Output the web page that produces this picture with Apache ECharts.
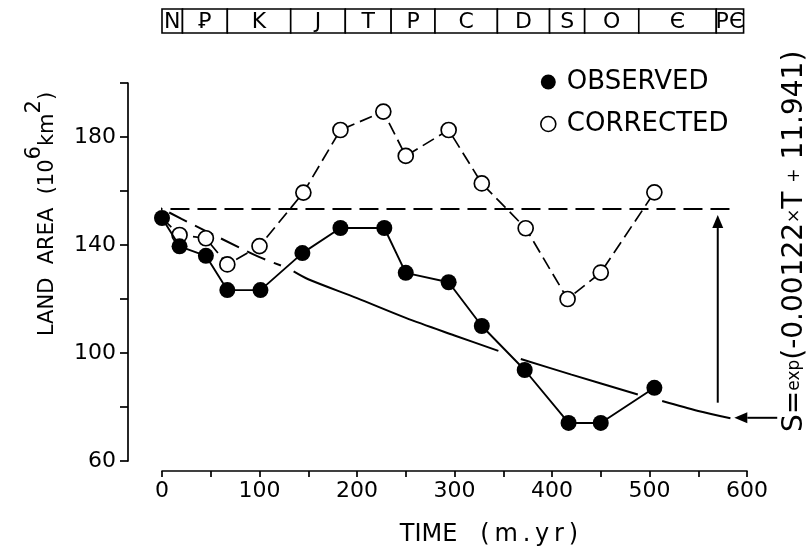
<!DOCTYPE html>
<html>
<head>
<meta charset="utf-8">
<script src="https://cdn.jsdelivr.net/npm/echarts@6/dist/echarts.min.js"></script>
<style>
  html, body { margin: 0; padding: 0; background: #fff; }
  #chart { width: 809px; height: 552px; }
</style>
</head>
<body>
<div id="chart"></div>
<script>
// Observed land area through time (10^6 km^2 vs million years)
const obsTime = [0, 18, 45, 67, 101, 144, 183, 228, 250, 294, 328, 372, 417, 450, 505];
const obsArea = [150, 139.5, 136, 123.3, 123.3, 137, 146.3, 146.3, 129.7, 126.2, 110, 93.7, 74.1, 74.1, 87.1];

// Land area corrected for loss by erosion
const corTime = [0, 18, 45, 67, 100, 145, 183, 227, 250, 294, 328, 373, 416, 450, 505];
const corArea = [150, 143.7, 142.5, 132.8, 139.6, 159.4, 182.6, 189.4, 173, 182.6, 162.8, 146.2, 120, 129.8, 159.5];

// Present-day reference level
const meanTime = [-19, 585];
const meanArea = [153.3, 153.3];

// Exponential fit, S = exp(-0.00122 T + 11.941): dashed lead-in, then solid pieces
const fitDashTime = [-19, 20, 60, 100, 122];
const fitDashArea = [157, 149.7, 142.5, 135.5, 132.4];
const fitSolidTime = [135, 150, 200, 250, 300, 345, null, 368, 420, 488, null, 513, 550, 583];
const fitSolidArea = [130.2, 127.3, 120.3, 113, 106.5, 100.8, null, 97.8, 92, 84.6, null, 82.2, 78.5, 75.8];

// Annotation arrows: tail time, tail area, head time, head area
const liftArrow = [570, 81.6, 570, 151.1];
const formulaArrow = [631, 76, 587, 76];

// Geologic periods along the time axis
const periodEdges = [0, 21, 67, 132, 188, 235, 280, 344, 397.5, 433.5, 489, 568.5, 596.5];
const periodNames = ['N', '\uA750', 'K', 'J', 'T', 'P', 'C', 'D', 'S', 'O', '\u0404', 'P\u0404'];

// Axis tick labels
const xTickLabels = [0, 100, 200, 300, 400, 500, 600];
const yTickLabels = [60, 100, 140, 180];

const FONT = 'DejaVu Sans';
const INK = '#000';
const THIN = '\u2009';

const pairs = (xs, ys) => xs.map((x, i) => (x === null ? [null, null] : [x, ys[i]]));

const periodData = periodNames.map((n, i) => [periodEdges[i], periodEdges[i + 1]]);

const chart = echarts.init(document.getElementById('chart'), null, { renderer: 'canvas' });

const noEmph = { disabled: true };

// straight arrow with a filled head, placed through the value axes
function renderArrow(params, api) {
  const a = api.coord([api.value(0), api.value(1)]);
  const b = api.coord([api.value(2), api.value(3)]);
  const dx = b[0] - a[0], dy = b[1] - a[1];
  const len = Math.hypot(dx, dy);
  const ux = dx / len, uy = dy / len;
  const headLen = 13, headHalf = 5.5;
  const base = [b[0] - ux * headLen, b[1] - uy * headLen];
  const nx = -uy, ny = ux;
  return {
    type: 'group',
    children: [
      {
        type: 'line',
        shape: { x1: a[0], y1: a[1], x2: base[0], y2: base[1] },
        style: { stroke: INK, lineWidth: 2 }
      },
      {
        type: 'polygon',
        shape: { points: [b, [base[0] + nx * headHalf, base[1] + ny * headHalf], [base[0] - nx * headHalf, base[1] - ny * headHalf]] },
        style: { fill: INK }
      }
    ]
  };
}

chart.setOption({
  animation: false,
  backgroundColor: '#fff',
  textStyle: { fontFamily: FONT, color: INK },
  grid: [
    { left: 162, right: 62, top: 83, bottom: 91 },
    { left: 162, right: 62, top: 9, height: 24 }
  ],
  xAxis: [
    {
      type: 'value', gridIndex: 0, min: 0, max: 600, interval: 50, offset: 10,
      axisLine: { show: true, onZero: false, lineStyle: { color: INK, width: 1.7 } },
      axisTick: { show: true, inside: false, length: 6, lineStyle: { color: INK, width: 1.7 } },
      axisLabel: {
        show: true, color: INK, fontFamily: FONT, fontSize: 22, margin: 9,
        formatter: v => (xTickLabels.includes(v) ? String(v) : '')
      },
      splitLine: { show: false }
    },
    { type: 'value', gridIndex: 1, min: 0, max: 600, show: false }
  ],
  yAxis: [
    {
      type: 'value', gridIndex: 0, min: 60, max: 200, interval: 20, offset: 34,
      axisLine: { show: true, onZero: false, lineStyle: { color: INK, width: 1.7 } },
      axisTick: { show: true, inside: false, length: 8, lineStyle: { color: INK, width: 1.7 } },
      axisLabel: {
        show: true, color: INK, fontFamily: FONT, fontSize: 22, margin: 12,
        formatter: v => (yTickLabels.includes(v) ? String(v) : '')
      },
      splitLine: { show: false }
    },
    { type: 'value', gridIndex: 1, min: 0, max: 1, show: false }
  ],
  legend: {
    orient: 'vertical', left: 535, top: 64,
    itemWidth: 15, itemHeight: 15, itemGap: 16,
    selectedMode: false,
    textStyle: { fontFamily: FONT, fontSize: 26, color: INK, padding: [0, 0, 0, 6] },
    data: [
      { name: 'OBSERVED', icon: 'circle', itemStyle: { color: INK, borderWidth: 0 } },
      { name: 'CORRECTED', icon: 'circle', itemStyle: { color: '#fff', borderColor: INK, borderWidth: 1.6 } }
    ]
  },
  series: [
    {
      type: 'custom', xAxisIndex: 1, yAxisIndex: 1, silent: true,
      data: periodData,
      renderItem: (params, api) => {
        const p0 = api.coord([api.value(0), 1]);
        const p1 = api.coord([api.value(1), 0]);
        return {
          type: 'group',
          children: [
            {
              type: 'rect',
              shape: { x: p0[0], y: p0[1], width: p1[0] - p0[0], height: p1[1] - p0[1] },
              style: { fill: '#fff', stroke: INK, lineWidth: 1.6 }
            },
            {
              type: 'text',
              style: {
                text: periodNames[params.dataIndex],
                x: (p0[0] + p1[0]) / 2, y: (p0[1] + p1[1]) / 2 + 1,
                align: 'center', verticalAlign: 'middle',
                fontFamily: FONT, fontSize: 22, fill: INK
              }
            }
          ]
        };
      }
    },
    {
      name: 'mean', type: 'line', clip: false, silent: true, z: 2,
      data: pairs(meanTime, meanArea), symbol: 'none',
      lineStyle: { color: INK, width: 2, type: [19, 8] }, emphasis: noEmph
    },
    {
      name: 'fitDash', type: 'line', clip: false, silent: true, z: 2, smooth: 0.3,
      data: pairs(fitDashTime, fitDashArea), symbol: 'none',
      lineStyle: { color: INK, width: 2, type: [20, 9] }, emphasis: noEmph
    },
    {
      name: 'fitSolid', type: 'line', clip: false, silent: true, z: 2, smooth: 0.3,
      connectNulls: false,
      data: pairs(fitSolidTime, fitSolidArea), symbol: 'none',
      lineStyle: { color: INK, width: 2 }, emphasis: noEmph
    },
    {
      name: 'arrows', type: 'custom', clip: false, silent: true, z: 2,
      data: [liftArrow, formulaArrow],
      renderItem: renderArrow
    },
    {
      name: 'CORRECTED', type: 'line', z: 3, clip: false,
      data: pairs(corTime, corArea).map((d, i) => (i === 0 ? { value: d, symbol: 'none' } : d)),
      symbol: 'circle', symbolSize: 15, showAllSymbol: true,
      itemStyle: { color: '#fff', borderColor: INK, borderWidth: 1.7 },
      lineStyle: { color: INK, width: 1.7, type: [13, 6] },
      emphasis: noEmph
    },
    {
      name: 'OBSERVED', type: 'line', z: 4, clip: false,
      data: pairs(obsTime, obsArea),
      symbol: 'circle', symbolSize: 16, showAllSymbol: true,
      itemStyle: { color: INK, borderWidth: 0 },
      lineStyle: { color: INK, width: 1.9 },
      emphasis: noEmph
    }
  ],
  graphic: [
    {
      type: 'text', x: 41, y: 214, rotation: Math.PI / 2, silent: true,
      style: {
        text: '{n|LAND  AREA  (10}{s|6}{n|km}{s|2}{n|)}',
        align: 'center', verticalAlign: 'middle', fill: INK,
        rich: {
          n: { fontFamily: FONT, fontSize: 21, fill: INK, verticalAlign: 'bottom' },
          s: { fontFamily: FONT, fontSize: 21, fill: INK, verticalAlign: 'bottom', padding: [0, 0, 13, 0] }
        }
      }
    },
    {
      type: 'text', x: 489, y: 535, silent: true,
      style: {
        text: 'TIME   (' + THIN + 'm' + THIN + '.' + THIN + 'y' + THIN + 'r' + THIN + ')',
        align: 'center', verticalAlign: 'middle',
        fontFamily: FONT, fontSize: 24, fill: INK
      }
    },
    {
      type: 'text', x: 795, y: 432, rotation: Math.PI / 2, silent: true,
      style: {
        text: '{a|S=}{b|exp}{a|(-0.00122}{b|\u00D7}{a|T }{b|+}{a| 11.941)}',
        align: 'left', verticalAlign: 'middle', fill: INK,
        rich: {
          a: { fontFamily: FONT, fontSize: 28, fill: INK },
          b: { fontFamily: FONT, fontSize: 17, fill: INK }
        }
      }
    }
  ]
});
</script>
</body>
</html>
